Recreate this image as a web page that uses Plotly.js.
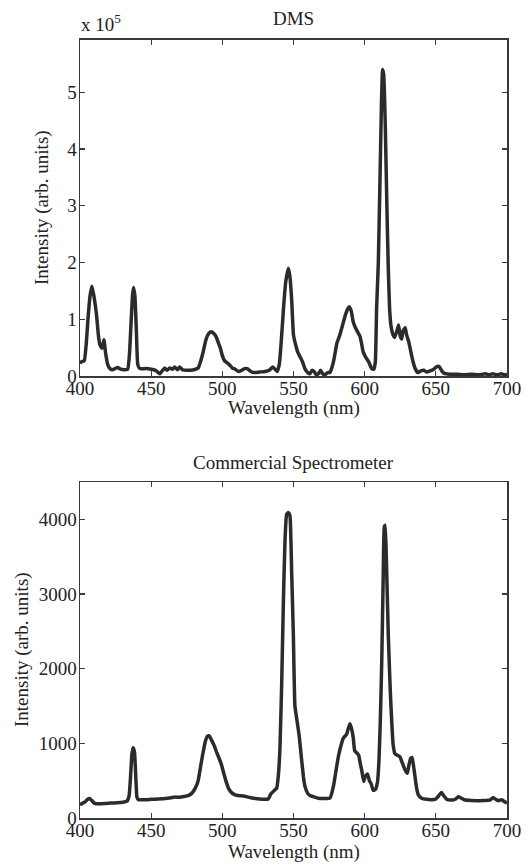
<!DOCTYPE html>
<html>
<head>
<meta charset="utf-8">
<script src="https://cdn.plot.ly/plotly-3.0.1.min.js"></script>
<style>html,body{margin:0;padding:0;background:#fff;}#chart{width:527px;height:864px;}</style>
</head>
<body>
<div id="chart"></div>
<script>
// DMS spectrum: wavelength (nm) and intensity (units of 10^5)
var dmsWavelength = [400,401,403,404.5,405.6,407,408.3,409.5,411.5,413,414,415.5,416.8,418,419.5,421,423,424.5,426.5,428.5,431,433.5,434.8,435.8,437,437.7,438.6,439.6,440.6,442,446,450,453,455,456.2,458,459.5,461,463,465,466.5,468.5,470,472,475,480,483,485,486.5,488.5,490.5,492.3,494,495.5,497,498.5,500,501.5,503,505,507,509,511.2,513.5,515.5,517.5,520,523,526,530,533,535.5,537,538.5,540,541.5,543,544.5,546.4,547.5,548.7,550,551.5,553,555,556.5,558,560,561.6,563,564.5,566,567.5,569,570.5,572,574,575.6,577,578.5,580.5,582.5,584.5,586.5,588,589.2,590.5,592,593.5,595,596.7,598,599,601,603,605,606.5,607.5,608.4,609.6,610.8,611.8,612.6,613.4,614.5,615.6,616.6,617.5,618.5,620,621,622.5,623.8,625,626,627,628.5,629.5,631,632.5,634,635.5,637.5,639.5,641.5,643.5,646,648.5,651,652.5,654.5,656.5,660,665,670,675,680,685,687,690,693,696,698,700];
var dmsIntensity = [0.22,0.25,0.27,0.6,1.0,1.4,1.58,1.45,1.1,0.7,0.55,0.49,0.64,0.4,0.2,0.13,0.11,0.13,0.15,0.12,0.11,0.12,0.4,0.9,1.45,1.56,1.4,0.8,0.2,0.13,0.13,0.12,0.1,0.06,0.04,0.1,0.14,0.1,0.14,0.12,0.16,0.11,0.16,0.11,0.1,0.11,0.14,0.28,0.42,0.64,0.75,0.78,0.75,0.7,0.6,0.5,0.36,0.27,0.24,0.2,0.14,0.12,0.08,0.1,0.13,0.13,0.08,0.06,0.07,0.08,0.1,0.16,0.12,0.08,0.2,0.65,1.2,1.65,1.9,1.75,1.35,0.72,0.55,0.42,0.32,0.24,0.13,0.06,0.04,0.1,0.08,0.02,0.04,0.1,0.04,0.02,0.06,0.06,0.15,0.3,0.58,0.72,0.9,1.08,1.18,1.22,1.15,0.95,0.85,0.78,0.7,0.55,0.42,0.32,0.24,0.13,0.12,0.25,1.2,2.0,3.5,4.8,5.4,5.3,4.4,3.0,1.9,1.2,0.88,0.72,0.68,0.78,0.9,0.7,0.65,0.8,0.85,0.72,0.6,0.42,0.25,0.13,0.06,0.09,0.1,0.07,0.09,0.12,0.17,0.16,0.08,0.04,0.03,0.03,0.02,0.03,0.02,0.04,0.02,0.04,0.02,0.04,0.02,0.03];

// Commercial spectrometer: wavelength (nm) and intensity (arb. units)
var comWavelength = [400,401.5,403.5,405,406.8,408.5,410.3,414,418,422,426,430,433,434.5,435.5,436.5,437.3,438.3,439.2,440,441,445,450,455,460,464,467,470,473,476,478.5,481,483,485,486.5,488,489.5,490.8,492.5,494.5,496,497.5,499.3,501,502.8,504.5,506.5,509,511,515,518,522,526,530,532.3,534,536,538.2,539.5,540.5,541.7,542.9,544,545.2,546.4,547.5,548.7,549.9,551,552.5,554,555.7,557,558.1,560,561.6,564,567.4,571,575.6,577,578.3,580,581.5,583.5,585,587.3,588.5,589.7,591,592,593,594.5,595.8,597,597.9,599.3,600.5,602,603.3,604.5,606,607.5,609,610,611,612,613,613.8,614.4,615.2,616.6,618,619,620,621.3,623,624.8,626,627.2,628.5,630,631,632.3,633.3,634.3,635.4,636.5,637.7,640,643.6,647,650,652.5,654,655.5,657.6,661,664,665.8,668,670,675,680,684,688,690.4,692,693.9,696.3,698,700];
var comIntensity = [175,195,215,245,260,230,195,190,195,200,205,212,225,300,550,860,940,880,550,280,245,245,250,255,262,272,280,278,288,300,330,400,500,720,880,1020,1095,1100,1040,960,880,810,720,600,480,390,340,310,300,295,280,265,255,250,255,320,360,400,600,950,1800,2900,3700,4070,4090,4050,3300,2450,1500,1300,1100,780,550,420,330,300,285,265,260,265,340,450,650,820,980,1070,1120,1200,1262,1180,1070,900,870,840,720,640,490,560,590,500,460,370,380,480,750,1300,2100,3200,3900,3920,3500,2450,1700,1300,980,860,840,820,760,700,640,600,700,800,810,700,550,400,310,265,250,245,255,310,340,300,250,240,255,285,265,245,235,230,235,240,275,250,232,246,220,200];

var xTicks = [400,450,500,550,600,650,700];
var dmsTicks = [0,1,2,3,4,5];
var comTicks = [0,1000,2000,3000,4000];

var W = 527, H = 864;
var FONT = 'Liberation Serif';
var FS = 19;
var lineStyle = {color:'#2b2b2b', width:3.5, shape:'spline', smoothing:0.4};

var traces = [
  {x: dmsWavelength, y: dmsIntensity, type:'scatter', mode:'lines', line: lineStyle, xaxis:'x', yaxis:'y', hoverinfo:'skip'},
  {x: comWavelength, y: comIntensity, type:'scatter', mode:'lines', line: lineStyle, xaxis:'x2', yaxis:'y2', hoverinfo:'skip'}
];

function px(x){return x/W;}
function py(y){return 1 - y/H;}

var axisCommon = {
  showline:true, linecolor:'#3a3a3a', linewidth:1.5, mirror:'ticks',
  ticks:'inside', ticklen:5, tickwidth:1.2, tickcolor:'#3a3a3a',
  showgrid:false, zeroline:false, fixedrange:true,
  tickfont:{family:FONT, size:FS, color:'#222'}
};

var layout = {
  width:W, height:H,
  margin:{l:0, r:0, t:0, b:0},
  paper_bgcolor:'#fff', plot_bgcolor:'#fff',
  showlegend:false,
  font:{family:FONT, size:FS, color:'#222'},
  xaxis: Object.assign({}, axisCommon, {domain:[px(80), px(507)], range:[400,700], tickvals:xTicks, ticktext:xTicks.map(String), anchor:'y', ticklabelstandoff:-5}),
  yaxis: Object.assign({}, axisCommon, {domain:[py(376), py(39.5)], range:[0,5.93], tickvals:dmsTicks, ticktext:dmsTicks.map(String), anchor:'x', ticklabelstandoff:-2}),
  xaxis2: Object.assign({}, axisCommon, {domain:[px(80), px(507)], range:[400,700], tickvals:xTicks, ticktext:xTicks.map(String), anchor:'y2', ticklabelstandoff:-5}),
  yaxis2: Object.assign({}, axisCommon, {domain:[py(818), py(482)], range:[0,4500], tickvals:comTicks, ticktext:comTicks.map(String), anchor:'x2', ticklabelstandoff:-2}),
  annotations: [
    {text:'DMS', xref:'paper', yref:'paper', x:px(293.5), y:py(18), xanchor:'center', yanchor:'middle', showarrow:false, font:{family:FONT, size:FS, color:'#222'}},
    {text:'Commercial Spectrometer', xref:'paper', yref:'paper', x:px(293.5), y:py(462), xanchor:'center', yanchor:'middle', showarrow:false, font:{family:FONT, size:FS, color:'#222'}},
    {text:'x 10<sup>5</sup>', xref:'paper', yref:'paper', x:px(79), y:py(37), xanchor:'left', yanchor:'bottom', showarrow:false, font:{family:FONT, size:FS, color:'#222'}},
    {text:'Wavelength (nm)', xref:'paper', yref:'paper', x:px(293.5), y:py(408), xanchor:'center', yanchor:'middle', showarrow:false, font:{family:FONT, size:FS, color:'#222'}},
    {text:'Wavelength (nm)', xref:'paper', yref:'paper', x:px(293.5), y:py(852), xanchor:'center', yanchor:'middle', showarrow:false, font:{family:FONT, size:FS, color:'#222'}},
    {text:'Intensity (arb. units)', xref:'paper', yref:'paper', x:px(42), y:py(208), xanchor:'center', yanchor:'middle', textangle:-90, showarrow:false, font:{family:FONT, size:FS, color:'#222'}},
    {text:'Intensity (arb. units)', xref:'paper', yref:'paper', x:px(22), y:py(650), xanchor:'center', yanchor:'middle', textangle:-90, showarrow:false, font:{family:FONT, size:FS, color:'#222'}}
  ]
};

Plotly.newPlot('chart', traces, layout, {staticPlot:true, displayModeBar:false});
</script>
</body>
</html>
